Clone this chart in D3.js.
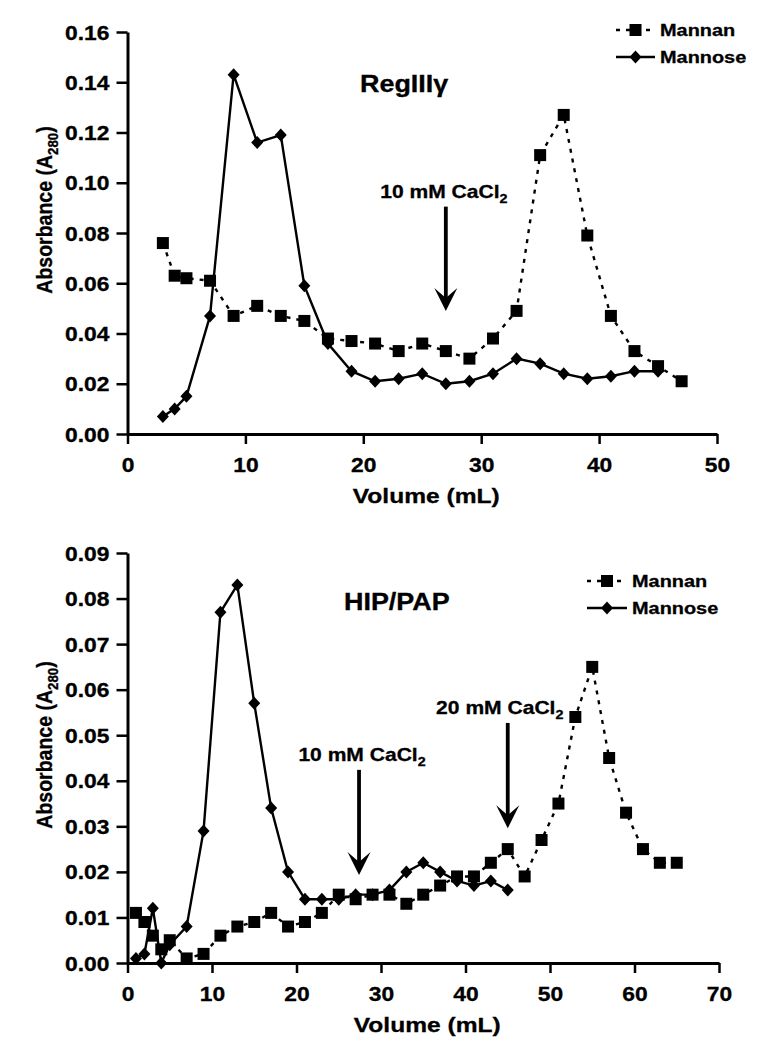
<!DOCTYPE html>
<html>
<head>
<meta charset="utf-8">
<script src="https://cdn.jsdelivr.net/npm/d3@7"></script>
<style>
  html, body { margin: 0; padding: 0; background: #fff; }
  svg text { font-family: "Liberation Sans", Arial, Helvetica, sans-serif; font-weight: bold; fill: #000; stroke: #000; stroke-width: 0.3px; }
</style>
</head>
<body>
<svg id="chart" width="774" height="1050"></svg>
<script>
// ---------------- DATA ----------------
// Top panel: RegIIIγ
const topMannanX   = [3,4,5,7,9,11,13,15,17,19,21,23,25,27,29,31,33,35,37,39,41,43,45,47];
const topMannanY   = [0.076,0.063,0.062,0.061,0.047,0.051,0.047,0.045,0.038,0.037,0.036,0.033,0.036,0.033,0.030,0.038,0.049,0.111,0.127,0.079,0.047,0.033,0.027,0.021];
const topMannoseX  = [3,4,5,7,9,11,13,15,17,19,21,23,25,27,29,31,33,35,37,39,41,43,45];
const topMannoseY  = [0.007,0.010,0.015,0.047,0.143,0.116,0.119,0.059,0.036,0.025,0.021,0.022,0.024,0.020,0.021,0.024,0.030,0.028,0.024,0.022,0.023,0.025,0.025];
const topXTicks    = [0,10,20,30,40,50];
const topYTicks    = [0,0.02,0.04,0.06,0.08,0.10,0.12,0.14,0.16];

// Bottom panel: HIP/PAP
const botMannanX   = [1,2,3,4,5,7,9,11,13,15,17,19,21,23,25,27,29,31,33,35,37,39,41,43,45,47,49,51,53,55,57,59,61,63,65];
const botMannanY   = [0.011,0.009,0.006,0.003,0.005,0.001,0.002,0.006,0.008,0.009,0.011,0.008,0.009,0.011,0.015,0.014,0.015,0.015,0.013,0.015,0.017,0.019,0.019,0.022,0.025,0.019,0.027,0.035,0.054,0.065,0.045,0.033,0.025,0.022,0.022];
const botMannoseX  = [1,2,3,4,5,7,9,11,13,15,17,19,21,23,25,27,29,31,33,35,37,39,41,43,45];
const botMannoseY  = [0.001,0.002,0.012,0.000,0.004,0.008,0.029,0.077,0.083,0.057,0.034,0.020,0.014,0.014,0.014,0.015,0.015,0.016,0.020,0.022,0.020,0.018,0.017,0.018,0.016];
const botXTicks    = [0,10,20,30,40,50,60,70];
const botYTicks    = [0,0.01,0.02,0.03,0.04,0.05,0.06,0.07,0.08,0.09];

const seriesNames  = ["Mannan","Mannose"];
const topTitle     = "RegIIIγ";
const botTitle     = "HIP/PAP";
const xAxisTitle   = "Volume (mL)";
// arrows: [label, volume position, tip value, top value]
const topArrows    = [["10 mM CaCl", 27, 0.049, 0.0905]];
const botArrows    = [["10 mM CaCl", 27.4, 0.0193, 0.0424], ["20 mM CaCl", 45.0, 0.0296, 0.0527]];

// ---------------- DRAWING ----------------
const S = 1.17; // horizontal stretch of the original figure's lettering
const svg = d3.select("#chart");

function stext(parent, x, y, anchor, size, parts, extra) {
  const g = parent.append("g").attr("transform", `translate(${x},${y}) scale(${S},1)` + (extra || ""));
  const t = g.append("text").attr("text-anchor", anchor).attr("font-size", size);
  let shift = 0;
  parts.forEach(p => {
    const ts = t.append("tspan").text(p.t);
    if (p.sub) {
      ts.attr("font-size", size * 0.68).attr("dy", size * 0.28);
      shift = size * 0.28;
    } else if (shift) {
      ts.attr("dy", -shift);
      shift = 0;
    }
  });
  return g;
}

const diamondPath = "M0,-6.5L6,0L0,6.5L-6,0Z";

function panel(cfg) {
  const g = svg.append("g");
  const x = d3.scaleLinear().domain(cfg.xDomain).range(cfg.xRange);
  const y = d3.scaleLinear().domain(cfg.yDomain).range(cfg.yRange);

  // axes
  const yAxis = d3.axisLeft(y).tickValues(cfg.yTicks).tickFormat(d3.format(".2f")).tickSize(11).tickSizeOuter(0);
  const gy = g.append("g").attr("transform", `translate(${cfg.xRange[0]},0)`).call(yAxis);
  const xAxis = d3.axisBottom(x).tickValues(cfg.xTicks).tickFormat(d3.format("d")).tickSize(10).tickSizeOuter(0);
  const gx = g.append("g").attr("transform", `translate(0,${cfg.yRange[0]})`).call(xAxis);
  [gx, gy].forEach(a => {
    a.attr("font-family", null).attr("font-size", null);
    a.select(".domain").attr("stroke", "#000").attr("stroke-width", 3);
    a.selectAll(".tick line").attr("stroke", "#000").attr("stroke-width", 2.5);
  });
  gy.selectAll(".tick text")
    .attr("x", null).attr("dy", "0.36em")
    .attr("font-size", 19.5)
    .attr("transform", `translate(-18,0) scale(${S},1)`);
  gx.selectAll(".tick text")
    .attr("y", null).attr("dy", null)
    .attr("font-size", 19.5)
    .attr("transform", `translate(0,38) scale(${S},1)`);

  // axis titles
  stext(g, (cfg.xRange[0] + cfg.xRange[1]) / 2 + 4, cfg.yRange[0] + 69, "middle", 21, [{t: xAxisTitle}]);
  stext(g, 52, cfg.yTitleY, "middle", 19.5, [{t: "Absorbance (A"}, {t: "280", sub: true}, {t: ")"}], " rotate(-90)");

  // lines
  const mannan = cfg.mannanX.map((v, i) => [v, cfg.mannanY[i]]);
  const mannose = cfg.mannoseX.map((v, i) => [v, cfg.mannoseY[i]]);
  const line = d3.line().x(d => x(d[0])).y(d => y(d[1]));
  g.append("path").datum(mannose).attr("d", line).attr("fill", "none").attr("stroke", "#000").attr("stroke-width", 2.4);
  g.append("path").datum(mannan).attr("d", line).attr("fill", "none").attr("stroke", "#000").attr("stroke-width", 2.4).attr("stroke-dasharray", "4,6");

  // markers
  g.selectAll(".dia").data(mannose).enter().append("path").attr("class", "dia")
    .attr("d", diamondPath).attr("transform", d => `translate(${x(d[0])},${y(d[1])})`).attr("fill", "#000");
  g.selectAll(".sq").data(mannan).enter().append("rect").attr("class", "sq")
    .attr("x", d => x(d[0]) - 6).attr("y", d => y(d[1]) - 6).attr("width", 12).attr("height", 12).attr("fill", "#000");

  // panel title
  stext(g, cfg.titlePos[0], cfg.titlePos[1], "start", 23, [{t: cfg.title}]);

  // arrows
  cfg.arrows.forEach((a, i) => {
    const ax = x(a[1]), tip = y(a[2]), top = y(a[3]);
    g.append("line").attr("x1", ax).attr("x2", ax).attr("y1", top).attr("y2", tip - 10)
      .attr("stroke", "#000").attr("stroke-width", 3.8);
    g.append("path").attr("d", `M${ax},${tip}L${ax - 11.5},${tip - 23}L${ax},${tip - 13}L${ax + 11.5},${tip - 23}Z`).attr("fill", "#000");
    stext(g, ax + cfg.arrowDx[i], top - 9, "middle", 18, [{t: a[0]}, {t: "2", sub: true}]);
  });

  // legend
  const L = cfg.legend; // [lineX1, lineX2, textX, y1, y2]
  const lx = (L[0] + L[1]) / 2;
  g.append("line").attr("x1", L[0]).attr("x2", L[1]).attr("y1", L[3]).attr("y2", L[3])
    .attr("stroke", "#000").attr("stroke-width", 2.4).attr("stroke-dasharray", "4,6");
  g.append("rect").attr("x", lx - 6).attr("y", L[3] - 6).attr("width", 12).attr("height", 12).attr("fill", "#000");
  g.append("line").attr("x1", L[0]).attr("x2", L[1]).attr("y1", L[4]).attr("y2", L[4])
    .attr("stroke", "#000").attr("stroke-width", 2.4);
  g.append("path").attr("d", diamondPath).attr("transform", `translate(${lx},${L[4]})`).attr("fill", "#000");
  stext(g, L[2], L[3] + 6, "start", 17, [{t: seriesNames[0]}]);
  stext(g, L[2], L[4] + 6, "start", 17, [{t: seriesNames[1]}]);
}

panel({
  xDomain: [0, 50], xRange: [127.5, 717],
  yDomain: [0, 0.16], yRange: [434, 32],
  xTicks: topXTicks, yTicks: topYTicks,
  mannanX: topMannanX, mannanY: topMannanY, mannoseX: topMannoseX, mannoseY: topMannoseY,
  title: topTitle, titlePos: [360, 92], yTitleY: 210,
  arrows: topArrows, arrowDx: [-2],
  legend: [616, 655, 660, 30, 57]
});

panel({
  xDomain: [0, 70], xRange: [127.5, 719],
  yDomain: [0, 0.09], yRange: [963, 553],
  xTicks: botXTicks, yTicks: botYTicks,
  mannanX: botMannanX, mannanY: botMannanY, mannoseX: botMannoseX, mannoseY: botMannoseY,
  title: botTitle, titlePos: [344, 610], yTitleY: 745,
  arrows: botArrows, arrowDx: [3, -8],
  legend: [587, 627, 632, 581, 608]
});
</script>
</body>
</html>
